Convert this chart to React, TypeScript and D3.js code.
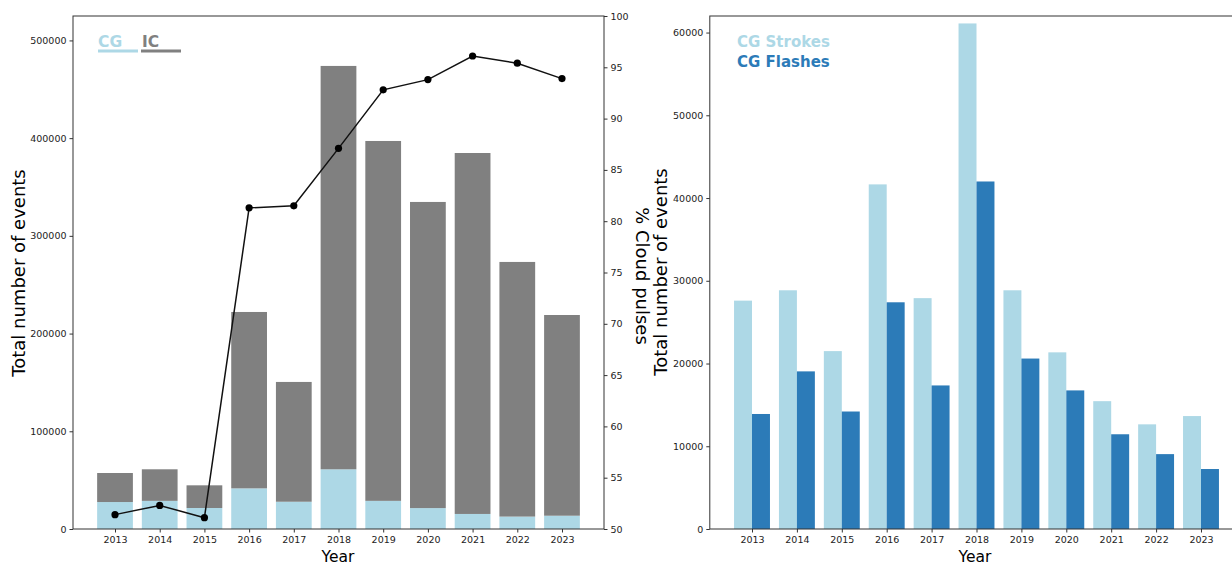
import * as d3 from "d3";
import { useEffect, useRef } from "react";

const years = ["2013", "2014", "2015", "2016", "2017", "2018", "2019", "2020", "2021", "2022", "2023"];
// left panel: stacked events
const cgEvents = [27600, 28800, 21500, 41600, 27900, 61100, 28800, 21400, 15400, 12700, 13600];
const icEvents = [29700, 32300, 23200, 180500, 122600, 412800, 368300, 313300, 369400, 260600, 205400];
const cloudPct = [51.4, 52.3, 51.1, 81.3, 81.5, 87.1, 92.8, 93.8, 96.1, 95.4, 93.9];
// right panel: CG strokes vs flashes
const cgStrokes = [27600, 28850, 21500, 41650, 27900, 61100, 28850, 21350, 15450, 12650, 13650];
const cgFlashes = [13900, 19050, 14200, 27400, 17350, 42000, 20600, 16750, 11450, 9050, 7250];

const leftTicks = [0, 100000, 200000, 300000, 400000, 500000];
const pctTicks = [50, 55, 60, 65, 70, 75, 80, 85, 90, 95, 100];
const rightTicks = [0, 10000, 20000, 30000, 40000, 50000, 60000];

const LIGHT = "#add8e6";
const GREY = "#808080";
const DARK = "#2c7bb8";
const FONT = "DejaVu Sans, sans-serif";

function App() {
    const ref = useRef<SVGSVGElement>(null);

    useEffect(() => {
        const svg = d3.select(ref.current);
        svg.selectAll("*").remove();

        const top = 16, bottom = 529;

        // ---------- left panel ----------
        const x = d3.scaleLinear().domain([-0.94, 10.94]).range([73, 604]);
        const y = d3.scaleLinear().domain([0, 525000]).range([bottom, top]);
        const y2 = d3.scaleLinear().domain([50, 100]).range([bottom, top]);

        const left = svg.append("g");

        left.selectAll("rect.cg")
            .data(cgEvents)
            .enter()
            .append("rect")
            .attr("x", (d, i) => x(i - 0.4))
            .attr("width", x(0.4) - x(-0.4))
            .attr("y", (d) => y(d))
            .attr("height", (d) => y(0) - y(d))
            .style("fill", LIGHT);

        left.selectAll("rect.ic")
            .data(icEvents)
            .enter()
            .append("rect")
            .attr("x", (d, i) => x(i - 0.4))
            .attr("width", x(0.4) - x(-0.4))
            .attr("y", (d, i) => y(d + cgEvents[i]))
            .attr("height", (d) => y(0) - y(d))
            .style("fill", GREY);

        const line = d3.line<number>()
            .x((d, i) => x(i))
            .y((d) => y2(d));

        left.append("path")
            .datum(cloudPct)
            .attr("d", line)
            .attr("fill", "none")
            .attr("stroke", "#111")
            .attr("stroke-width", 1.5);

        left.selectAll("circle")
            .data(cloudPct)
            .enter()
            .append("circle")
            .attr("cx", (d, i) => x(i))
            .attr("cy", (d) => y2(d))
            .attr("r", 3.6)
            .attr("fill", "#000");

        // frame
        left.append("rect")
            .attr("x", 73).attr("y", top)
            .attr("width", 604 - 73).attr("height", bottom - top)
            .attr("fill", "none").attr("stroke", "#333").attr("stroke-width", 1);

        const axB = left.append("g")
            .attr("transform", "translate(0," + bottom + ")")
            .call(d3.axisBottom(x).tickValues(d3.range(years.length)).tickFormat((d) => years[+d]).tickSize(3.5).tickPadding(4));
        const axL = left.append("g")
            .attr("transform", "translate(73,0)")
            .call(d3.axisLeft(y).tickValues(leftTicks).tickFormat(d3.format("d")).tickSize(3.5).tickPadding(3));
        const axR = left.append("g")
            .attr("transform", "translate(604,0)")
            .call(d3.axisRight(y2).tickValues(pctTicks).tickSize(3.5).tickPadding(3));
        [axB, axL, axR].forEach((a) => {
            a.select(".domain").remove();
            a.selectAll("line").attr("stroke", "#333");
            a.selectAll("text").style("font-family", FONT).style("font-size", "9.5px").attr("fill", "#222");
        });

        left.append("text")
            .attr("x", 338).attr("y", 562)
            .attr("text-anchor", "middle")
            .style("font-family", FONT).style("font-size", "15.5px")
            .text("Year");
        left.append("text")
            .attr("transform", "translate(25,273) rotate(-90)")
            .attr("text-anchor", "middle")
            .style("font-family", FONT).style("font-size", "18px")
            .text("Total number of events");
        left.append("text")
            .attr("transform", "translate(636,276) rotate(90)")
            .attr("text-anchor", "middle")
            .style("font-family", FONT).style("font-size", "18px")
            .text("% Cloud pulses");

        // legend
        const lg = left.append("g").style("font-family", FONT).style("font-weight", "bold").style("font-size", "15.5px");
        lg.append("text").attr("x", 98).attr("y", 47).attr("fill", LIGHT).text("CG");
        lg.append("line").attr("x1", 98).attr("x2", 138).attr("y1", 51).attr("y2", 51).attr("stroke", LIGHT).attr("stroke-width", 3);
        lg.append("text").attr("x", 142).attr("y", 47).attr("fill", GREY).text("IC");
        lg.append("line").attr("x1", 141).attr("x2", 181).attr("y1", 51).attr("y2", 51).attr("stroke", GREY).attr("stroke-width", 3);

        // ---------- right panel ----------
        const xr = d3.scaleLinear().domain([-0.94, 10.94]).range([709.8, 1243.2]);
        const yr = d3.scaleLinear().domain([0, 62000]).range([bottom, top]);

        const right = svg.append("g");

        right.selectAll("rect.s")
            .data(cgStrokes)
            .enter()
            .append("rect")
            .attr("x", (d, i) => xr(i - 0.4))
            .attr("width", xr(0) - xr(-0.4))
            .attr("y", (d) => yr(d))
            .attr("height", (d) => yr(0) - yr(d))
            .style("fill", LIGHT);

        right.selectAll("rect.f")
            .data(cgFlashes)
            .enter()
            .append("rect")
            .attr("x", (d, i) => xr(i))
            .attr("width", xr(0.4) - xr(0))
            .attr("y", (d) => yr(d))
            .attr("height", (d) => yr(0) - yr(d))
            .style("fill", DARK);

        right.append("rect")
            .attr("x", 709.8).attr("y", top)
            .attr("width", 1243.2 - 709.8).attr("height", bottom - top)
            .attr("fill", "none").attr("stroke", "#333").attr("stroke-width", 1);

        const rB = right.append("g")
            .attr("transform", "translate(0," + bottom + ")")
            .call(d3.axisBottom(xr).tickValues(d3.range(years.length)).tickFormat((d) => years[+d]).tickSize(3.5).tickPadding(4));
        const rL = right.append("g")
            .attr("transform", "translate(709.8,0)")
            .call(d3.axisLeft(yr).tickValues(rightTicks).tickFormat(d3.format("d")).tickSize(3.5).tickPadding(3));
        [rB, rL].forEach((a) => {
            a.select(".domain").remove();
            a.selectAll("line").attr("stroke", "#333");
            a.selectAll("text").style("font-family", FONT).style("font-size", "9.5px").attr("fill", "#222");
        });

        right.append("text")
            .attr("x", 975).attr("y", 562)
            .attr("text-anchor", "middle")
            .style("font-family", FONT).style("font-size", "15.5px")
            .text("Year");
        right.append("text")
            .attr("transform", "translate(667,272) rotate(-90)")
            .attr("text-anchor", "middle")
            .style("font-family", FONT).style("font-size", "18px")
            .text("Total number of events");

        const rg = right.append("g").style("font-family", FONT).style("font-weight", "bold").style("font-size", "15px");
        rg.append("text").attr("x", 737).attr("y", 47).attr("fill", LIGHT).text("CG Strokes");
        rg.append("text").attr("x", 737).attr("y", 67).attr("fill", DARK).text("CG Flashes");

        return () => {
            svg.selectAll("*").remove();
        };
    }, []);

    return (
        <div style={{ position: "absolute", left: 0, top: 0, width: 1232, height: 567, background: "#fff", overflow: "hidden" }}>
            <svg ref={ref} width={1232} height={567}></svg>
        </div>
    );
}

export default App;
